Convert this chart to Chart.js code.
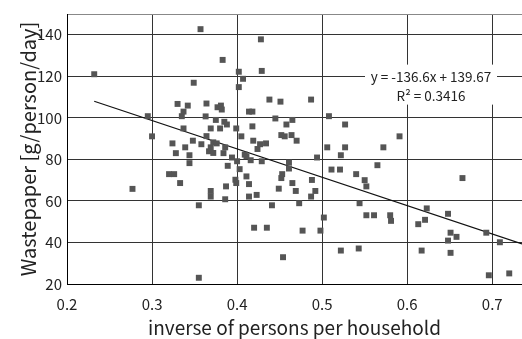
<!DOCTYPE html>
<html>
<head>
<meta charset="utf-8">
<script src="https://cdn.jsdelivr.net/npm/chart.js@4.4.1/dist/chart.umd.min.js"></script>
<style>
  html, body { margin: 0; padding: 0; background: #fff; }
  #wrap { width: 522px; height: 339px; }
</style>
</head>
<body>
<div id="wrap"><canvas id="wasteChart" width="522" height="339"></canvas></div>
<script>
// inverse of persons per household (x) / wastepaper g/person/day (y)
const xValues = [
  0.232, 0.277, 0.295, 0.300, 0.320, 0.326, 0.324, 0.328, 0.330, 0.333,
  0.335, 0.337, 0.337, 0.339, 0.342, 0.344, 0.344, 0.348, 0.349, 0.355,
  0.355, 0.357, 0.358, 0.363, 0.364, 0.364, 0.367, 0.369, 0.369, 0.369,
  0.369, 0.372, 0.372, 0.375, 0.376, 0.377, 0.380, 0.381, 0.382, 0.383,
  0.384, 0.385, 0.386, 0.386, 0.387, 0.388, 0.389, 0.394, 0.398, 0.399,
  0.399, 0.400, 0.402, 0.402, 0.403, 0.405, 0.407, 0.409, 0.411, 0.411,
  0.414, 0.414, 0.414, 0.416, 0.418, 0.418, 0.419, 0.420, 0.423, 0.424,
  0.427, 0.428, 0.429, 0.429, 0.434, 0.435, 0.438, 0.441, 0.445, 0.449,
  0.451, 0.452, 0.452, 0.453, 0.454, 0.456, 0.458, 0.461, 0.461, 0.464,
  0.465, 0.465, 0.469, 0.470, 0.473, 0.477, 0.487, 0.487, 0.488, 0.492,
  0.494, 0.498, 0.502, 0.506, 0.508, 0.511, 0.521, 0.522, 0.522, 0.527,
  0.527, 0.540, 0.543, 0.544, 0.550, 0.552, 0.552, 0.561, 0.565, 0.572,
  0.580, 0.581, 0.591, 0.613, 0.617, 0.621, 0.623, 0.648, 0.648, 0.651,
  0.651, 0.658, 0.665, 0.693, 0.696, 0.709, 0.720
];
const yValues = [
  121.0, 65.8, 100.8, 91.1, 72.9, 72.9, 87.7, 83.0, 106.7, 68.6,
  100.8, 103.0, 94.9, 85.8, 105.9, 82.0, 78.2, 89.0, 116.9, 57.9,
  23.0, 142.7, 87.3, 100.7, 106.9, 91.2, 83.9, 94.9, 85.8, 64.8,
  62.1, 88.2, 83.1, 99.0, 87.7, 105.1, 94.9, 105.9, 104.0, 127.9,
  83.0, 98.1, 85.8, 60.8, 67.0, 96.8, 76.9, 80.9, 70.2, 68.6,
  94.9, 79.1, 122.2, 114.8, 75.3, 91.1, 118.8, 82.3, 81.5, 71.8,
  103.0, 68.1, 62.1, 79.6, 103.0, 95.9, 89.0, 47.1, 62.9, 85.0,
  87.3, 137.8, 122.6, 79.1, 87.7, 47.1, 108.8, 57.9, 99.7, 65.9,
  107.8, 91.7, 71.0, 72.9, 32.9, 91.1, 96.8, 78.5, 75.6, 91.7,
  99.0, 68.6, 64.8, 89.0, 58.9, 45.7, 108.8, 62.1, 70.1, 64.8,
  80.9, 45.7, 52.0, 85.8, 100.8, 75.1, 75.1, 82.0, 36.1, 96.8,
  85.8, 72.9, 37.1, 58.9, 70.0, 67.0, 53.1, 53.1, 77.2, 85.8,
  53.1, 50.4, 91.1, 48.8, 36.1, 50.9, 56.4, 53.8, 40.9, 44.7,
  35.0, 42.7, 71.0, 44.7, 24.2, 40.1, 25.1
];

// linear trendline, read at its two ends
const trendX = [0.232, 0.735];
const trendY = [108.0, 39.3];

const xTicks = [0.2, 0.3, 0.4, 0.5, 0.6, 0.7];
const yTicks = [20, 40, 60, 80, 100, 120, 140];

const equationText = 'y = -136.6x + 139.67';
const r2Text = 'R² = 0.3416';

const fontFamily = '"Noto Sans CJK JP", "Noto Sans", sans-serif';

// white label box with the regression equation
const equationBox = {
  id: 'equationBox',
  beforeDatasetsDraw(chart) {
    const ctx = chart.ctx;
    const cx = chart.scales.x.getPixelForValue(0.628);
    const cy = chart.scales.y.getPixelForValue(116);
    ctx.save();
    ctx.fillStyle = '#fff';
    ctx.fillRect(cx - 66, cy - 20, 132, 40);
    ctx.fillStyle = '#222';
    ctx.font = '13.5px ' + fontFamily;
    ctx.textAlign = 'center';
    ctx.textBaseline = 'middle';
    ctx.fillText(equationText, cx, cy - 8);
    ctx.fillText(r2Text, cx, cy + 11);
    ctx.restore();
  }
};

const points = xValues.map((x, i) => ({ x: x, y: yValues[i] }));
const trend = trendX.map((x, i) => ({ x: x, y: trendY[i] }));

const ctx = document.getElementById('wasteChart').getContext('2d');
new Chart(ctx, {
  type: 'scatter',
  data: {
    datasets: [{
      label: 'data',
      data: points,
      pointStyle: 'rect',
      pointRadius: 4.2,
      pointBorderWidth: 0,
      pointBackgroundColor: '#555',
      borderColor: '#555'
    }, {
      type: 'line',
      label: 'trend',
      data: trend,
      borderColor: '#111',
      borderWidth: 1.2,
      pointRadius: 0,
      fill: false
    }]
  },
  options: {
    responsive: false,
    animation: false,
    devicePixelRatio: 1,
    layout: { autoPadding: false, padding: { top: 13, right: 0, bottom: 0, left: 0 } },
    plugins: {
      legend: { display: false },
      tooltip: { enabled: false }
    },
    scales: {
      x: {
        type: 'linear',
        min: 0.2,
        max: 0.735,
        afterFit: (scale) => { scale.height = 55; },
        afterBuildTicks: (scale) => { scale.ticks = xTicks.map(v => ({ value: v })); },
        ticks: {
          padding: 11,
          color: '#222',
          font: { family: fontFamily, size: 15 },
          callback: (v) => v.toFixed(1)
        },
        grid: { color: '#333', lineWidth: 1, drawTicks: false },
        border: { color: '#000', width: 1 },
        title: {
          display: true,
          text: 'inverse of persons per household',
          color: '#222',
          font: { family: fontFamily, size: 19 },
          padding: { top: 0, bottom: 0 }
        }
      },
      y: {
        type: 'linear',
        min: 20,
        max: 150,
        afterFit: (scale) => { scale.width = 67; },
        afterBuildTicks: (scale) => { scale.ticks = yTicks.concat([150]).map(v => ({ value: v })); },
        ticks: {
          padding: 5,
          color: '#222',
          font: { family: fontFamily, size: 15 },
          callback: (v) => (v === 150 ? '' : v)
        },
        grid: { color: (c) => (c.tick && c.tick.value === 150 ? '#888' : '#333'), lineWidth: 1, drawTicks: false },
        border: { color: '#000', width: 1 },
        title: {
          display: true,
          text: 'Wastepaper [g/person/day]',
          color: '#222',
          font: { family: fontFamily, size: 20 },
          padding: { top: 16, bottom: 0 }
        }
      }
    }
  },
  plugins: [equationBox]
});
</script>
</body>
</html>
